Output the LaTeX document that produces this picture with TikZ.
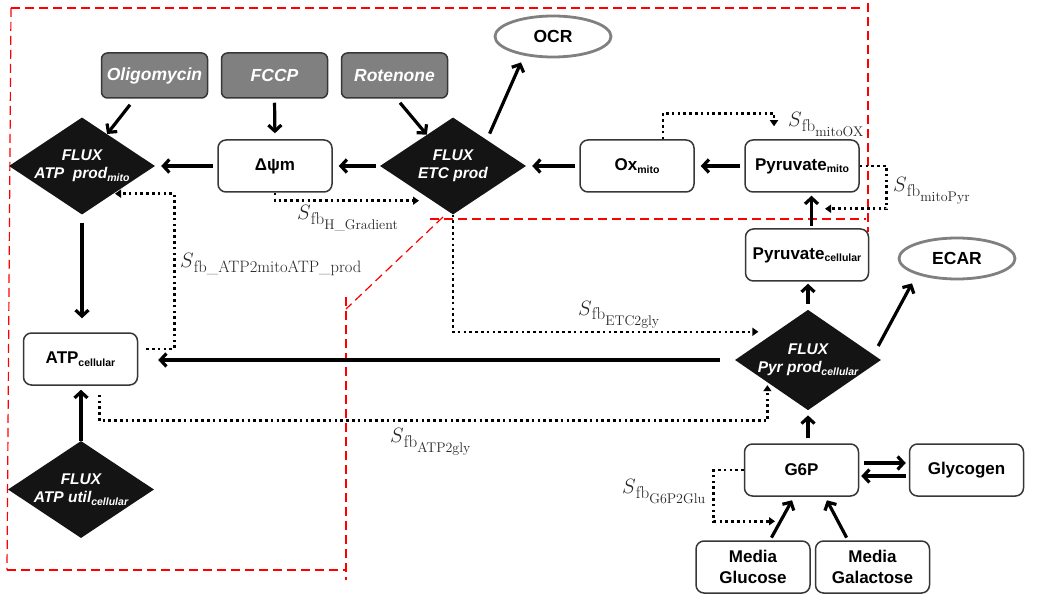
\documentclass[tikz,border=0pt]{standalone}
\usepackage{fontspec}
\newfontfamily\boxfont{Liberation Sans}
\usetikzlibrary{shapes.geometric,arrows.meta}
\definecolor{drugfill}{RGB}{128,128,128}
\definecolor{boxline}{RGB}{55,55,55}
\definecolor{readout}{RGB}{128,128,128}
\newcommand{\lowsub}[1]{\raisebox{-2.5pt}{\fontsize{10.5}{10.5}\selectfont #1}}
\newcommand{\sfblabel}[1]{{\fontsize{21}{21}\selectfont$S$}\raisebox{-5pt}{\fontsize{17}{17}\selectfont fb\raisebox{-5pt}{\fontsize{14}{14}\selectfont #1}}}
\begin{document}
\begin{tikzpicture}
[x=1pt,y=-1pt,
  statebox/.style={shape=rectangle,rounded corners=8pt,draw=boxline,line width=1.5pt,fill=white,
    minimum width=114pt,minimum height=52pt,inner sep=0pt,align=center,
    font=\boxfont\bfseries\fontsize{17}{20.5}\selectfont},
  drugbox/.style={statebox,fill=drugfill,rounded corners=6pt,minimum width=106pt,minimum height=45pt,
    text=white,font=\boxfont\bfseries\itshape\fontsize{17.5}{19}\selectfont},
  fluxdiamond/.style={shape=diamond,fill=black!92,minimum width=146pt,minimum height=97pt,
    inner sep=-8pt,text=white,align=center,font=\boxfont\bfseries\itshape\fontsize{15.5}{18}\selectfont},
  readoutnode/.style={shape=ellipse,draw=readout,line width=2.8pt,minimum width=116pt,
    minimum height=41pt,inner sep=0pt,font=\boxfont\bfseries\fontsize{17.5}{19}\selectfont},
  fblabel/.style={inner sep=0pt,anchor=base west,text=black!85},
  arrowline/.style={-{Straight Barb[length=6pt,width=13pt]},line width=3.2pt},
  dotline/.style={line width=2.6pt,dash pattern=on 2.6pt off 3.2pt,-{Triangle[length=6pt,width=8pt]}},
  regionline/.style={red,line width=1.2pt,dash pattern=on 9pt off 5pt}]
\useasboundingbox (0,0) rectangle (1040,609);
%% model region
\draw[regionline] (11,8) -- (862,8);
\draw[regionline] (868,3) -- (868,232);
\draw[regionline] (430,219) -- (866,219);
\draw[regionline] (443,217) -- (346,309);
\draw[regionline] (346,297) -- (346,580);
\draw[regionline] (7,570) -- (346,570);
\draw[regionline] (11,8) -- (7,570);
%% drugs
\foreach \nodename/\x/\nodetext in {olig/154.5/Oligomycin, fccp/274.5/FCCP, rot/394.5/Rotenone} {
  \node (\nodename) at (\x,75.5) [drugbox] {\nodetext};
}
%% fluxes
\foreach \nodename/\x/\y/\nodetext in {atpmito/82/166/{FLUX\\ATP\ \ prod\lowsub{mito}},
  etc/453/166/{FLUX\\ETC prod}, pyrdia/808/360/{FLUX\\Pyr prod\lowsub{cellular}},
  atputil/81/489.5/{FLUX\\ATP util\lowsub{cellular}}} {
  \node (\nodename) at (\x,\y) [fluxdiamond] {\nodetext};
}
%% states
\foreach \nodename/\x/\y/\nodetext in {dpsi/275/166/{Δψm}, oxmito/637/166/{Ox\lowsub{mito}},
  pyrmito/802/166/{Pyruvate\lowsub{mito}}, atpcell/80.5/359/{ATP\lowsub{cellular}},
  g6p/801.5/470/{G6P}, glyc/966.5/470/{Glycogen}, glucose/753/567/{Media\\Glucose},
  galac/872.5/567/{Media\\Galactose}} {
  \node (\nodename) at (\x,\y) [statebox] {\nodetext};
}
\node (pyrcell) at (807,255) [statebox,minimum width=123pt] {Pyruvate\lowsub{cellular}};
%% readouts
\node (ocr) at (553,36.5) [readoutnode] {OCR};
\node (ecar) at (957,258.5) [readoutnode] {ECAR};
%% arrows
\path
\foreach \startnode/\endnode in {etc.west/dpsi.east, dpsi.west/atpmito.east,
  oxmito.west/etc.east, pyrmito.west/oxmito.east, fccp.south/dpsi.north} {
  (\startnode) edge[arrowline,shorten <=4pt,shorten >=6pt] (\endnode)
};
\draw[arrowline] ([xshift=-24.5pt,yshift=-6pt]olig.south) -- (atpmito);
\draw[arrowline] ([xshift=5.5pt,yshift=-4pt]rot.south) -- (etc);
\draw[arrowline] ([yshift=8pt]etc.north east) -- ([xshift=-32pt,yshift=-4pt]ocr.south);
\draw[arrowline,shorten <=8pt,shorten >=14pt] (atpmito.south) -- (atpmito.south |- atpcell.north);
\draw[arrowline,shorten >=4pt] (atputil.north) -- (atputil.north |- atpcell.south);
\draw[arrowline,shorten <=15pt,shorten >=20pt] (pyrdia.west) -- (pyrdia.west -| atpcell.east);
\draw[arrowline] ([xshift=-3pt,yshift=14pt]pyrdia.east) -- ([xshift=-45pt,yshift=-3pt]ecar.south);
\draw[arrowline,shorten <=6pt,shorten >=2pt] (pyrdia.north) -- (pyrdia.north |- pyrcell.south);
\draw[arrowline,shorten <=2pt,shorten >=3pt] ([xshift=4.5pt]pyrcell.north) -- ([xshift=4.5pt]pyrcell.north |- pyrmito.south);
\draw[arrowline,shorten <=5pt,shorten >=5pt] ([xshift=6.5pt]g6p.north) -- (pyrdia.south);
\draw[arrowline,shorten <=5pt,shorten >=3pt] ([yshift=7pt]g6p.east) -- ([yshift=7pt]glyc.west);
\draw[arrowline,shorten <=3pt,shorten >=2pt] ([yshift=-6pt]glyc.west) -- ([yshift=-6pt]g6p.east);
\draw[arrowline,shorten <=3pt,shorten >=4pt] ([xshift=17pt]glucose.north) -- ([xshift=-7.5pt]g6p.south);
\draw[arrowline,shorten <=3pt,shorten >=4pt] ([xshift=-24.5pt]galac.north) -- ([xshift=23.5pt]g6p.south);
%% feedback
\draw[dotline] (dpsi.south) |- ([xshift=-34pt,yshift=14pt]etc.south);
\draw[dotline] ([xshift=8pt,yshift=10pt]atpcell.east) -- ++(28,0) |- ([xshift=33pt,yshift=21pt]atpmito.south);
\draw[dotline] ([xshift=19pt,yshift=-9pt]atpcell.south) -- ++(0,26) -| ([xshift=-4pt]pyrdia.south west);
\draw[dotline] (etc.south) |- ([xshift=-13pt,yshift=3pt]pyrdia.north west);
\draw[dotline] ([xshift=26pt]oxmito.north) -- ++(0,-26) -| ([xshift=-28pt,yshift=13pt]pyrmito.north);
\draw[dotline] (pyrmito.east) -- ++(27,0) |- ([xshift=23pt,yshift=-16pt]pyrmito.south);
\draw[dotline] (g6p.west) -- ++(-30,0) |- ([xshift=22pt,yshift=19pt]glucose.north);
%% feedback labels
\node (lblgrad) at (297,220) [fblabel] {\sfblabel{H\_Gradient}};
\node (lblmitoatp) at (180,268) [fblabel] {{\fontsize{21}{21}\selectfont$S$}\raisebox{-5pt}{\fontsize{16.5}{16.5}\selectfont fb\_ATP2mitoATP\_prod}};
\node (lblmitoox) at (788,127) [fblabel] {\sfblabel{mitoOX}};
\node (lblmitopyr) at (893,192) [fblabel] {\sfblabel{mitoPyr}};
\node (lbletcgly) at (578,315) [fblabel] {\sfblabel{ETC2gly}};
\node (lblatpgly) at (390,442) [fblabel] {\sfblabel{ATP2gly}};
\node (lblglu) at (622,493) [fblabel] {\sfblabel{G6P2Glu}};
\end{tikzpicture}
\end{document}
